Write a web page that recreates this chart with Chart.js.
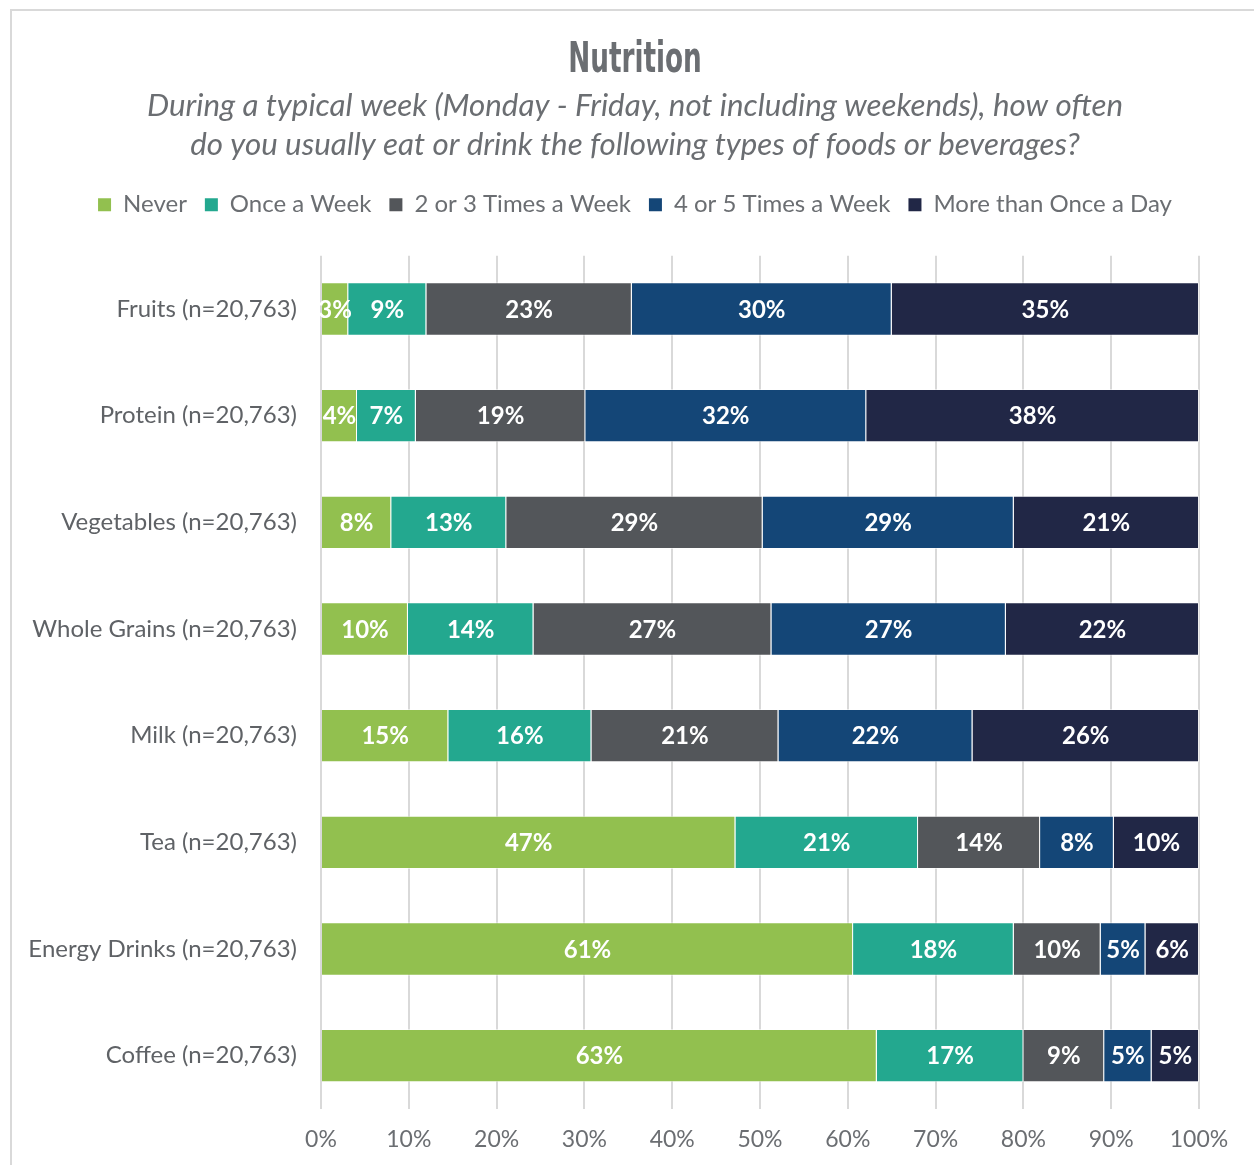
<!DOCTYPE html>
<html>
<head>
<meta charset="utf-8">
<script src="https://cdn.jsdelivr.net/npm/chart.js@4.4.1/dist/chart.umd.min.js"></script>
<style>
  html, body { margin: 0; padding: 0; background: #fff; overflow: hidden; }
  #frame { position: absolute; left: 10px; top: 9px; width: 1242px; height: 1154px;
           border-left: 2px solid #d9d9d9; border-top: 2px solid #d9d9d9; }
  #densityCanvas { position: absolute; left: 0; top: 0; }
</style>
</head>
<body>
<div id="frame"></div>
<canvas id="densityCanvas" width="1254" height="1165"></canvas>
<script>
var categories = ['Fruits (n=20,763)', 'Protein (n=20,763)', 'Vegetables (n=20,763)', 'Whole Grains (n=20,763)',
                  'Milk (n=20,763)', 'Tea (n=20,763)', 'Energy Drinks (n=20,763)', 'Coffee (n=20,763)'];
var seriesNames = ['Never', 'Once a Week', '2 or 3 Times a Week', '4 or 5 Times a Week', 'More than Once a Day'];
var never      = [3.1, 4.1, 8.0, 9.9, 14.5, 47.2, 60.6, 63.3];
var onceWeek   = [8.9, 6.7, 13.1, 14.3, 16.3, 20.8, 18.3, 16.7];
var twoThree   = [23.4, 19.3, 29.2, 27.1, 21.3, 13.9, 9.9, 9.2];
var fourFive   = [29.6, 32.0, 28.6, 26.7, 22.1, 8.4, 5.1, 5.4];
var moreDaily  = [35.0, 37.9, 21.1, 22.0, 25.8, 9.7, 6.1, 5.4];
var xTicks = [0, 10, 20, 30, 40, 50, 60, 70, 80, 90, 100];
var colours = ['#92c04f', '#23a88f', '#53565a', '#144677', '#212746'];

var allSeries = [never, onceWeek, twoThree, fourFive, moreDaily];
var textGray = '#6b6e72';
var titleText = 'Nutrition';

// white percentage labels inside each segment
var segmentLabels = {
  id: 'segmentLabels',
  afterDatasetsDraw: function(chart) {
    var ctx = chart.ctx;
    ctx.save();
    ctx.font = 'bold 24px Lato';
    ctx.fillStyle = '#ffffff';
    ctx.textAlign = 'center';
    ctx.textBaseline = 'middle';
    chart.data.datasets.forEach(function(ds, i) {
      var meta = chart.getDatasetMeta(i);
      meta.data.forEach(function(bar, j) {
        var cx = (bar.x + bar.base) / 2;
        ctx.fillText(Math.round(ds.data[j]) + '%', cx, bar.y + 1);
      });
    });
    ctx.restore();
  }
};

// the title font is a condensed one, so squeeze it into the title box
var narrowTitle = {
  id: 'narrowTitle',
  afterDraw: function(chart) {
    var tb = chart.titleBlock;
    var ctx = chart.ctx;
    var pad = tb.options.padding.top;
    var cx = (tb.left + tb.right) / 2;
    var cy = (tb.top + pad + tb.bottom) / 2;
    ctx.save();
    ctx.translate(cx, cy);
    ctx.scale(0.68, 1);
    ctx.font = "bold 43px 'DejaVu Sans Condensed', 'DejaVu Sans', sans-serif";
    ctx.fillStyle = textGray;
    ctx.textAlign = 'center';
    ctx.textBaseline = 'middle';
    ctx.fillText(titleText, 0, 1);
    ctx.restore();
  }
};

var chartData = {
  labels: categories,
  datasets: allSeries.map(function(vals, i) {
    return {
      label: seriesNames[i],
      data: vals,
      xAxisID: 'x',
      yAxisID: 'y',
      backgroundColor: colours[i],
      borderColor: 'rgba(255,255,255,0.55)',
      borderWidth: 1,
      categoryPercentage: 1,
      barPercentage: 0.5
    };
  })
};

var barChart = new Chart(document.getElementById('densityCanvas'), {
  type: 'bar',
  data: chartData,
  plugins: [segmentLabels, narrowTitle],
  options: {
    indexAxis: 'y',
    responsive: false,
    animation: false,
    layout: { padding: { left: 16, right: 0, top: 0, bottom: 11 } },
    plugins: {
      title: {
        display: true,
        text: titleText,
        color: 'rgba(0,0,0,0)',
        font: { family: 'Lato', size: 42, weight: 'bold', lineHeight: 1.2 },
        padding: { top: 35, bottom: 0 }
      },
      subtitle: {
        display: true,
        text: ['During a typical week (Monday - Friday, not including weekends), how often',
               'do you usually eat or drink the following types of foods or beverages?'],
        color: textGray,
        font: { family: 'Lato', size: 31.3, style: 'italic', lineHeight: 1.25 },
        padding: { top: 1, bottom: 10 }
      },
      legend: {
        position: 'top',
        labels: {
          color: textGray,
          font: { family: 'Lato', size: 24 },
          boxWidth: 13,
          boxHeight: 13,
          padding: 18,
          generateLabels: function(chart) {
            var items = Chart.defaults.plugins.legend.labels.generateLabels(chart);
            items.forEach(function(it) { it.lineWidth = 0; });
            return items;
          }
        }
      },
      tooltip: { enabled: false }
    },
    scales: {
      x: {
        stacked: true,
        min: 0,
        max: 100,
        afterBuildTicks: function(scale) {
          scale.ticks = xTicks.map(function(v) { return { value: v }; });
        },
        afterFit: function(scale) { scale.height = 45; },
        grid: { color: '#d9d9d9', lineWidth: 2, drawTicks: false },
        border: { display: false },
        ticks: {
          color: textGray,
          font: { family: 'Lato', size: 23 },
          padding: 17,
          callback: function(v) { return v + '%'; }
        }
      },
      y: {
        stacked: true,
        grid: { display: false },
        border: { display: false },
        afterFit: function(scale) { scale.width = 305; },
        ticks: {
          color: '#5f6266',
          font: { family: 'Lato', size: 24 },
          padding: 16
        }
      },
      // empty axes, only used as gaps above and right of the bars
      xGap: {
        type: 'linear',
        position: 'top',
        grid: { display: false },
        border: { display: false },
        ticks: { display: false },
        afterFit: function(scale) { scale.height = 29; }
      },
      yGap: {
        type: 'linear',
        position: 'right',
        grid: { display: false },
        border: { display: false },
        ticks: { display: false },
        afterFit: function(scale) { scale.width = 55; }
      }
    }
  }
});
</script>
</body>
</html>
